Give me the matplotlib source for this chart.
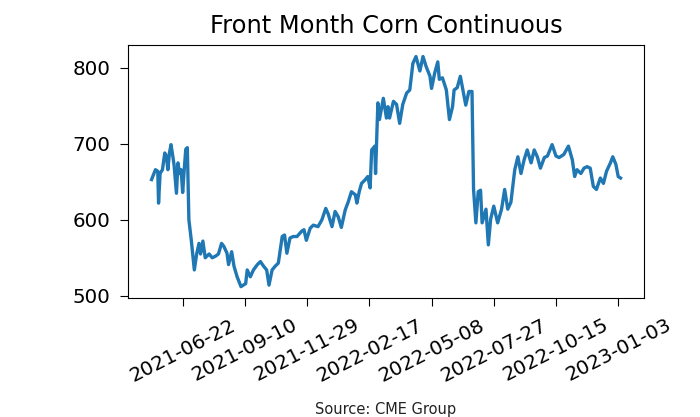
import pandas as pd
import matplotlib
matplotlib.use("Agg")
import matplotlib.pyplot as plt
import matplotlib.dates as mdates

# front month corn, cents/bu
dates = [
    "2021-05-13", "2021-05-16", "2021-05-18", "2021-05-21", "2021-05-22", "2021-05-24",
    "2021-05-27", "2021-05-30", "2021-06-01", "2021-06-03", "2021-06-05", "2021-06-07",
    "2021-06-09", "2021-06-11", "2021-06-14", "2021-06-16", "2021-06-18", "2021-06-20",
    "2021-06-22", "2021-06-24", "2021-06-26", "2021-06-28", "2021-06-30", "2021-07-03",
    "2021-07-07", "2021-07-10", "2021-07-13", "2021-07-15", "2021-07-18", "2021-07-21",
    "2021-07-26", "2021-07-30", "2021-08-03", "2021-08-07", "2021-08-11", "2021-08-14",
    "2021-08-18", "2021-08-20", "2021-08-24", "2021-08-27", "2021-08-31", "2021-09-05",
    "2021-09-11", "2021-09-13", "2021-09-17", "2021-09-21", "2021-09-26", "2021-09-30",
    "2021-10-04", "2021-10-08", "2021-10-11", "2021-10-15", "2021-10-19", "2021-10-23",
    "2021-10-28", "2021-10-31", "2021-11-03", "2021-11-07", "2021-11-11", "2021-11-16",
    "2021-11-22", "2021-11-25", "2021-11-28", "2021-12-03", "2021-12-07", "2021-12-13",
    "2021-12-18", "2021-12-23", "2021-12-26", "2021-12-31", "2022-01-04", "2022-01-08",
    "2022-01-12", "2022-01-17", "2022-01-21", "2022-01-25", "2022-01-30", "2022-02-01",
    "2022-02-04", "2022-02-07", "2022-02-11", "2022-02-15", "2022-02-18", "2022-02-20",
    "2022-02-24", "2022-02-25", "2022-02-28", "2022-03-02", "2022-03-07", "2022-03-11",
    "2022-03-13", "2022-03-15", "2022-03-20", "2022-03-24", "2022-03-28", "2022-04-01",
    "2022-04-06", "2022-04-10", "2022-04-14", "2022-04-18", "2022-04-23", "2022-04-27",
    "2022-05-01", "2022-05-06", "2022-05-08", "2022-05-12", "2022-05-16", "2022-05-18",
    "2022-05-22", "2022-05-27", "2022-05-31", "2022-06-04", "2022-06-06", "2022-06-10",
    "2022-06-14", "2022-06-18", "2022-06-21", "2022-06-25", "2022-06-29", "2022-07-01",
    "2022-07-04", "2022-07-07", "2022-07-10", "2022-07-12", "2022-07-17", "2022-07-20",
    "2022-07-23", "2022-07-27", "2022-08-01", "2022-08-06", "2022-08-10", "2022-08-14",
    "2022-08-18", "2022-08-23", "2022-08-27", "2022-08-31", "2022-09-04", "2022-09-08",
    "2022-09-13", "2022-09-17", "2022-09-21", "2022-09-25", "2022-09-30", "2022-10-04",
    "2022-10-10", "2022-10-15", "2022-10-19", "2022-10-25", "2022-10-31", "2022-11-05",
    "2022-11-08", "2022-11-11", "2022-11-16", "2022-11-20", "2022-11-24", "2022-11-28",
    "2022-12-02", "2022-12-06", "2022-12-11", "2022-12-15", "2022-12-19", "2022-12-24",
    "2022-12-27", "2022-12-31", "2023-01-03", "2023-01-06",
]
prices = [
    653, 661, 666, 664, 622, 661,
    666, 688, 684, 666, 688, 699,
    686, 672, 635, 675, 661, 666,
    636, 666, 693, 695, 600, 574,
    534, 555, 569, 555, 572, 550,
    555, 550, 552, 555, 569, 565,
    556, 541, 558, 539, 525, 512,
    516, 534, 525, 534, 541, 545,
    539, 534, 514, 534, 539, 543,
    578, 580, 556, 576, 578, 578,
    585, 587, 573, 589, 593, 591,
    600, 615, 608, 591, 611, 604,
    590, 613, 624, 637, 633, 622,
    637, 648, 652, 657, 642, 692,
    697, 661, 754, 732, 760, 734,
    749, 734, 756, 752, 727, 752,
    767, 771, 806, 815, 796, 815,
    802, 789, 773, 793, 808, 785,
    787, 771, 732, 749, 771, 774,
    789, 767, 751, 769, 769, 640,
    596, 637, 639, 596, 614, 567,
    601, 618, 596, 614, 640, 614,
    623, 666, 683, 661, 679, 692,
    675, 692, 683, 668, 682, 684,
    699, 684, 682, 686, 697, 679,
    657, 666, 661, 668, 670, 668,
    644, 640, 655, 648, 664, 675,
    683, 673, 657, 655,
]
tick_dates = pd.date_range("2021-06-22", periods=8, freq="80D")

df = pd.DataFrame({"date": pd.to_datetime(dates), "price": prices})

fig = plt.figure(figsize=(7, 4.17), dpi=100)
ax = fig.add_axes([0.183, 0.285, 0.737, 0.607])
ax.plot(df["date"], df["price"], color="#1f77b4", linewidth=2.4)

ax.set_xticks(tick_dates)
ax.xaxis.set_major_formatter(mdates.DateFormatter("%Y-%m-%d"))
ax.set_yticks([500, 600, 700, 800])
ax.tick_params(axis="both", labelsize=14.3, length=5.5)
ax.tick_params(axis="x", pad=7)
ax.tick_params(axis="y", pad=7)
plt.setp(ax.get_xticklabels(), rotation=27, ha="center")
ax.set_title("Front Month Corn Continuous", fontsize=17.4, pad=9)

fig.text(0.551, 0.007, "Source: CME Group", ha="center", fontsize=10.5, color="#222222")

fig.savefig("out.png", dpi=100)
